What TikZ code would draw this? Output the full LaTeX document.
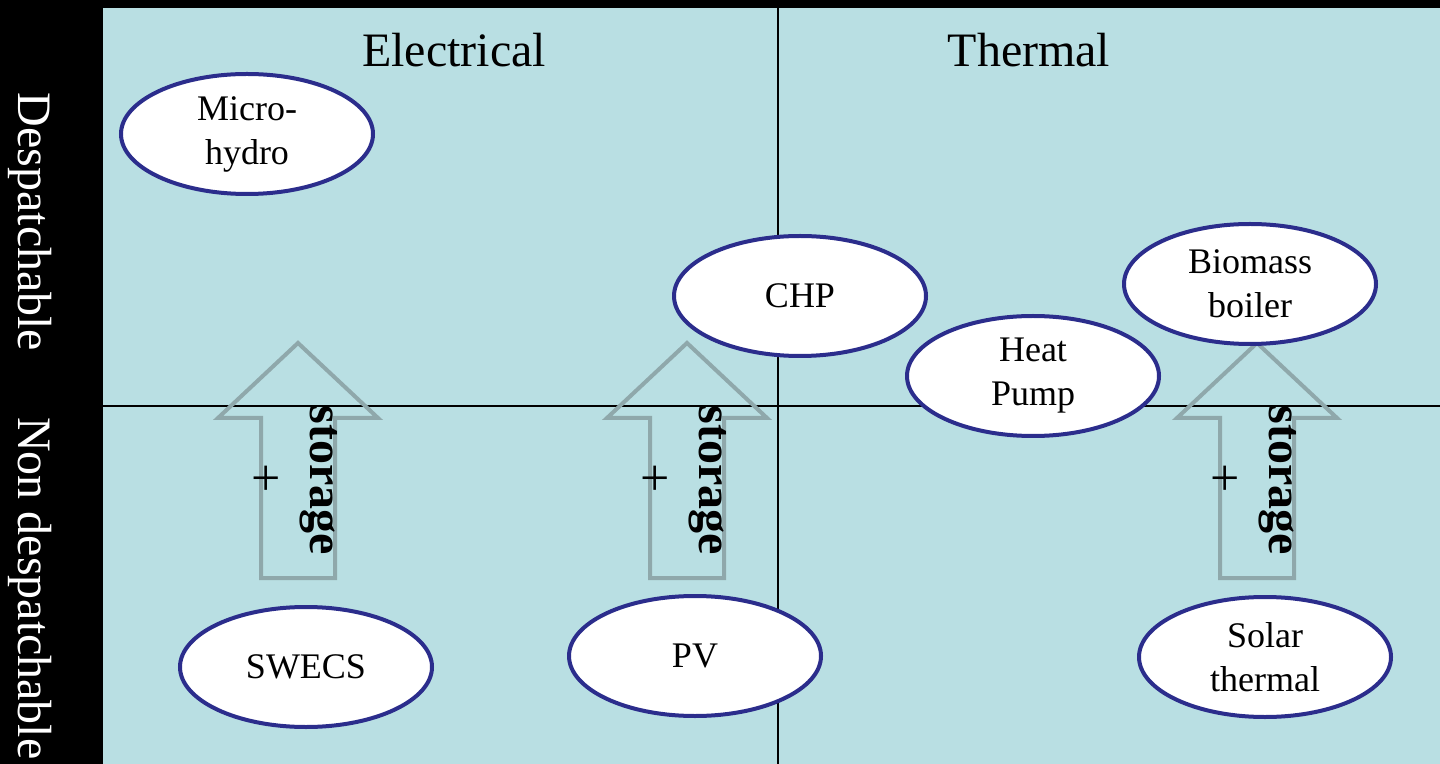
\documentclass[tikz,border=0pt]{standalone}
\usepackage{fontspec}
\setmainfont{Liberation Serif}
\usepackage{tikz}
\usetikzlibrary{
  shapes.geometric,
  positioning
}
\definecolor{deBack}{HTML}{B9DFE3}
\definecolor{deRim}{HTML}{2B2D8C}
\definecolor{deArrow}{HTML}{8FA8AB}
\tikzset{
  source/.style={
    draw=deRim, fill=white, ellipse, line width=2pt, inner sep=0pt,
    minimum width=126pt, minimum height=60pt, align=center,
    font=\fontsize{18}{22}\selectfont
  },
  header/.style={font=\fontsize{24}{28}\selectfont},
  sidelabel/.style={text=white, rotate=-90, font=\fontsize{24}{28}\selectfont},
  storearrow/.style={draw=deArrow, line width=2pt, line join=miter},
  pluslabel/.style={font=\fontsize{26}{30}\selectfont},
  storelabel/.style={rotate=-90, font=\fontsize{24}{28}\selectfont\bfseries},
  divider/.style={line width=1pt, black}
}
\begin{document}
\begin{tikzpicture}[x=0.5pt, y=-0.5pt]
  % background and quadrants
  \fill[black] (0,0) rectangle (1440,764);
  \useasboundingbox (0,0) rectangle (1440,764);
  \fill[deBack] (103,8) rectangle (1440,764);
  \draw[divider] (778,8) -- (778,764);
  \draw[divider] (103,406) -- (1440,406);

  % headings
  \node[header] (elec) at (454,50) {Electrical};
  \node[header] (therm) at (1029,50) {Thermal};
  \node[sidelabel] (desp) at (30,222) {Despatchable};
  \node[sidelabel, anchor=west] (ndesp) at (30,410) {Non despatchable};

  % storage arrows
  \foreach \cx/\nm in {298/a, 687/b, 1257/c} {
    \draw[storearrow] (\cx,343) -- (\cx+80,418) -- (\cx+37,418) -- (\cx+37,578)
      -- (\cx-37,578) -- (\cx-37,418) -- (\cx-80,418) -- cycle;
    \node[pluslabel] (plus\nm) at (\cx-32,481) {+};
    \node[storelabel] (store\nm) at (\cx+21,480) {storage};
  }

  % sources
  \node[source] (hydro) at (247,134) {Micro-\\hydro};
  \node[source] (chp) at (800,296) {CHP};
  \node[source] (hp) at (1033,376) {Heat\\Pump};
  \node[source] (bio) at (1250,284) {Biomass\\boiler};
  \node[source] (swecs) at (306,667) {SWECS};
  \node[source] (pv) at (695,656) {PV};
  \node[source] (solar) at (1265,657) {Solar\\thermal};
\end{tikzpicture}
\end{document}
